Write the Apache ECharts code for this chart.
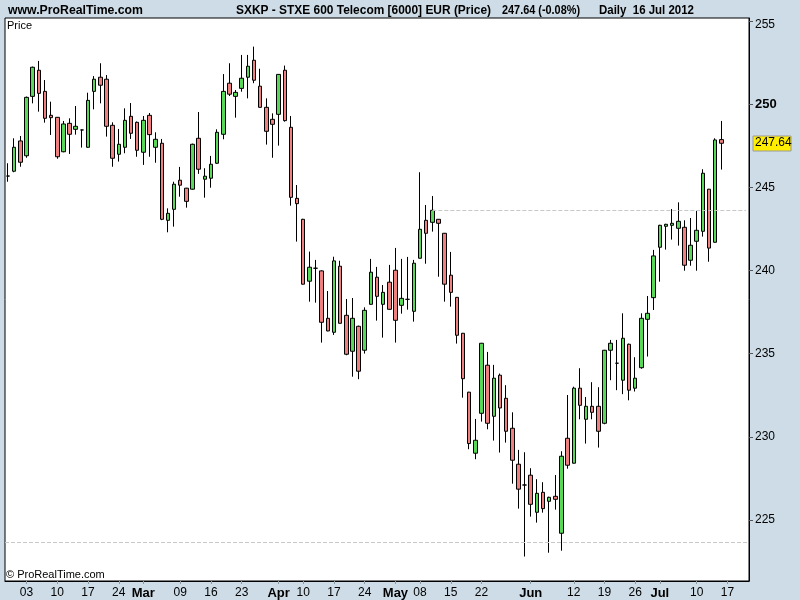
<!DOCTYPE html>
<html>
<head>
<meta charset="utf-8">
<script src="https://cdn.jsdelivr.net/npm/echarts@6/dist/echarts.min.js"></script>
<style>html,body{margin:0;padding:0;background:#cddce6;}#c{width:800px;height:600px;}</style>
</head>
<body>
<div id="c"></div>
<script>
// Trading days (Eurex calendar) plus 4 empty future sessions
const dates = [
'2012-01-31',
'2012-02-01','2012-02-02','2012-02-03','2012-02-06','2012-02-07','2012-02-08','2012-02-09','2012-02-10','2012-02-13','2012-02-14','2012-02-15','2012-02-16','2012-02-17','2012-02-20','2012-02-21','2012-02-22','2012-02-23','2012-02-24','2012-02-27','2012-02-28','2012-02-29',
'2012-03-01','2012-03-02','2012-03-05','2012-03-06','2012-03-07','2012-03-08','2012-03-09','2012-03-12','2012-03-13','2012-03-14','2012-03-15','2012-03-16','2012-03-19','2012-03-20','2012-03-21','2012-03-22','2012-03-23','2012-03-26','2012-03-27','2012-03-28','2012-03-29','2012-03-30',
'2012-04-02','2012-04-03','2012-04-04','2012-04-05','2012-04-10','2012-04-11','2012-04-12','2012-04-13','2012-04-16','2012-04-17','2012-04-18','2012-04-19','2012-04-20','2012-04-23','2012-04-24','2012-04-25','2012-04-26','2012-04-27','2012-04-30',
'2012-05-02','2012-05-03','2012-05-04','2012-05-07','2012-05-08','2012-05-09','2012-05-10','2012-05-11','2012-05-14','2012-05-15','2012-05-16','2012-05-17','2012-05-18','2012-05-21','2012-05-22','2012-05-23','2012-05-24','2012-05-25','2012-05-28','2012-05-29','2012-05-30','2012-05-31',
'2012-06-01','2012-06-04','2012-06-05','2012-06-06','2012-06-07','2012-06-08','2012-06-11','2012-06-12','2012-06-13','2012-06-14','2012-06-15','2012-06-18','2012-06-19','2012-06-20','2012-06-21','2012-06-22','2012-06-25','2012-06-26','2012-06-27','2012-06-28','2012-06-29',
'2012-07-02','2012-07-03','2012-07-04','2012-07-05','2012-07-06','2012-07-09','2012-07-10','2012-07-11','2012-07-12','2012-07-13','2012-07-16',
'2012-07-17','2012-07-18','2012-07-19','2012-07-20'
];

const opens = [
245.67,245.96,247.78,246.89,250.46,252.03,250.76,249.32,249.20,247.13,
248.84,248.48,248.44,247.40,250.76,251.61,251.49,248.72,246.98,247.40,
249.26,248.90,247.10,249.32,247.40,247.64,243.01,243.67,245.42,244.94,
244.88,247.94,245.48,245.54,246.44,248.18,251.25,250.46,250.94,251.61,
252.63,251.07,249.80,249.08,249.38,252.03,248.60,244.33,243.07,239.35,
240.13,239.97,237.12,236.28,240.25,237.30,235.14,236.64,235.20,237.96,
239.59,237.96,239.29,240.01,237.90,238.26,237.54,240.73,243.01,242.89,
243.07,242.23,239.71,238.38,236.22,232.68,229.01,231.41,234.30,231.23,
233.70,232.31,230.51,228.35,227.10,227.69,225.46,226.66,226.12,226.42,
224.20,229.91,228.41,232.92,231.05,231.83,231.83,230.81,235.20,234.42,
233.40,235.56,232.92,234.15,237.06,238.36,241.39,242.65,242.71,242.53,
242.59,240.61,241.75,242.35,244.88,241.69,247.86
];
const closes = [
245.67,247.40,246.50,250.40,252.21,250.64,249.14,249.18,246.83,248.80,
248.18,248.66,248.44,250.22,251.49,251.13,248.66,246.74,247.58,249.02,
248.24,247.22,249.02,248.16,247.88,243.07,243.43,245.18,245.12,244.15,
247.58,246.08,245.66,246.38,248.30,250.76,250.59,250.70,251.55,252.27,
251.43,249.80,248.36,248.78,251.78,249.00,244.39,244.01,239.17,240.19,
240.13,236.88,236.36,240.57,236.82,234.96,237.12,233.94,237.60,239.89,
238.44,238.68,237.66,237.00,238.32,238.26,240.43,242.47,242.23,243.61,
242.83,239.17,238.68,236.10,233.49,229.59,229.79,235.62,230.81,233.52,
231.73,230.33,228.59,226.85,227.10,225.94,226.60,225.68,226.36,226.24,
228.83,228.29,232.92,231.89,231.83,231.47,230.33,235.20,235.62,234.42,
235.92,232.80,233.52,237.12,237.42,240.87,242.71,242.77,242.83,242.95,
240.31,241.51,242.41,245.84,241.34,247.84,247.64
];
const lows = [
245.33,245.90,246.23,246.77,250.04,249.54,248.88,248.14,246.71,247.10,
247.00,248.16,247.38,247.38,249.68,250.04,248.04,246.23,246.54,247.04,
247.90,246.83,246.34,246.83,246.47,243.02,242.29,242.63,244.43,243.77,
244.85,245.80,244.37,244.97,246.40,247.88,250.48,249.18,250.74,250.34,
251.25,249.78,247.56,246.77,247.50,248.94,243.89,241.73,239.15,238.12,
238.06,235.66,236.34,236.12,236.80,234.90,233.61,233.46,235.00,237.94,
236.98,235.96,237.64,235.66,237.40,237.64,236.92,240.71,240.40,242.33,
239.62,238.12,237.82,235.60,232.35,229.25,228.65,230.91,230.45,229.77,
229.05,229.65,227.18,225.68,222.80,225.20,224.84,225.44,223.03,225.62,
223.15,228.08,228.39,231.05,229.59,231.05,229.35,230.75,233.40,232.80,
232.56,232.19,232.72,234.09,234.82,237.62,239.32,241.25,241.85,241.49,
239.98,240.28,239.98,242.03,240.52,241.67,246.06
];
const highs = [
246.44,247.94,248.08,250.45,252.25,252.59,251.44,250.14,249.22,248.98,
249.14,249.88,248.46,250.68,251.68,252.45,251.74,248.90,248.50,249.74,
250.06,248.95,249.28,249.46,248.30,247.90,243.73,245.33,246.22,244.96,
247.62,249.52,246.14,246.88,248.48,251.80,252.45,250.84,252.95,252.95,
253.45,252.12,250.34,249.44,251.80,252.31,249.28,245.13,243.10,241.13,
240.63,240.00,238.76,240.82,240.58,238.28,238.34,236.68,237.78,240.69,
240.21,239.12,240.33,241.35,240.69,240.81,240.63,245.90,243.93,244.47,
243.09,242.25,241.11,238.40,236.24,232.70,231.07,235.64,235.10,234.32,
233.80,233.10,231.47,229.21,229.07,228.11,227.45,227.27,226.40,227.70,
229.13,232.51,233.01,234.12,232.39,233.28,232.98,235.22,235.82,235.82,
237.42,235.60,234.78,237.42,238.46,241.23,242.74,242.80,243.69,244.09,
243.01,243.15,243.57,246.08,244.90,247.94,248.98
];

const tickDates = ['2012-02-03','2012-02-10','2012-02-17','2012-02-24','2012-03-01','2012-03-09','2012-03-16','2012-03-23','2012-04-02','2012-04-10','2012-04-17','2012-04-24','2012-05-02','2012-05-08','2012-05-15','2012-05-22','2012-06-01','2012-06-12','2012-06-19','2012-06-26','2012-07-02','2012-07-10','2012-07-17'];
const tickTexts = ['03','10','17','24','Mar','09','16','23','Apr','10','17','24','May','08','15','22','Jun','12','19','26','Jul','10','17'];
const monthTicks = ['Mar','Apr','May','Jun','Jul'];
const priceTicks = [225,230,235,240,245,250,255];

const lastPrice = 247.64;
const resistanceLevel = 243.61;
const supportLevel = 223.66;
const resistanceStart = '2012-05-10';

const candles = opens.map((o,i)=>[o, closes[i], lows[i], highs[i]]);

const chart = echarts.init(document.getElementById('c'), null, {renderer:'canvas'});
const FONT = 'Liberation Sans, Arial, sans-serif';
const isTick = (idx, val) => tickDates.indexOf(val) >= 0;

chart.setOption({
  backgroundColor: '#cddce6',
  animation: false,
  textStyle: {fontFamily: FONT},
  grid: {left: 5, right: 51, top: 18, bottom: 19, show: true, backgroundColor: '#ffffff', borderColor: '#000000', borderWidth: 1},
  xAxis: {
    type: 'category', data: dates, boundaryGap: true,
    axisLine: {show: true, lineStyle: {color: '#000'}},
    axisTick: {show: true, interval: isTick, alignWithLabel: true, length: 3, lineStyle: {color: '#8a9aa4'}},
    axisLabel: {
      interval: isTick, margin: 6, color: '#000', fontSize: 12, fontFamily: FONT,
      formatter: v => { const t = tickTexts[tickDates.indexOf(v)]; return monthTicks.indexOf(t) >= 0 ? '{m|' + t + '}' : t; },
      rich: {m: {fontWeight: 'bold', fontSize: 13, color: '#000', fontFamily: FONT}}
    },
    splitLine: {show: false}
  },
  yAxis: {
    type: 'value', position: 'right', min: 221.33, max: 255.17, scale: true,
    axisLine: {show: true, lineStyle: {color: '#000'}},
    axisTick: {show: true, length: 4, customValues: priceTicks, lineStyle: {color: '#555'}},
    axisLabel: {
      customValues: priceTicks, margin: 6, color: '#000', fontSize: 12, fontFamily: FONT,
      formatter: v => v === 250 ? '{b|250}' : (v === 255 ? '{t|255}' : String(v)),
      rich: {
        b: {fontWeight: 'bold', fontSize: 13, color: '#000', fontFamily: FONT},
        t: {fontSize: 12, color: '#000', fontFamily: FONT, padding: [8, 0, 0, 0]}
      }
    },
    splitLine: {show: false}
  },
  series: [{
    type: 'candlestick', data: candles, barWidth: 4,
    itemStyle: {color: '#57d957', color0: '#f08080', borderColor: '#000', borderColor0: '#000', borderColorDoji: '#000', borderWidth: 1},
    markLine: {
      silent: true, symbol: ['none','none'], animation: false,
      label: {show: false},
      lineStyle: {type: 'dashed', color: '#c8c8c8', width: 1},
      data: [
        {yAxis: supportLevel},
        [{coord: [resistanceStart, resistanceLevel]}, {coord: [dates[dates.length-1], resistanceLevel]}]
      ]
    }
  }]
});

// fit header texts horizontally into their spans
const mctx = document.createElement('canvas').getContext('2d');
const HFONT = 'bold 12px "Liberation Sans", Arial, sans-serif';
function headerText(str, x0, x1) {
  mctx.font = HFONT;
  const w = mctx.measureText(str).width;
  return {type: 'text', x: x0, y: 11, scaleX: (x1 - x0) / w, originX: 0, originY: 0,
          style: {text: str, x: 0, y: 0, font: HFONT, fill: '#000', verticalAlign: 'middle'}};
}

const yLast = chart.convertToPixel({yAxisIndex: 0}, lastPrice);
chart.setOption({
  graphic: [
    headerText('www.ProRealTime.com', 8, 143),
    headerText('SXKP - STXE 600 Telecom [6000] EUR (Price)', 236, 491),
    headerText('247.64 (-0.08%)', 502, 580),
    headerText('Daily  16 Jul 2012', 599, 694),
    {type: 'text', left: 7, top: 20, style: {text: 'Price', font: '11px Liberation Sans, Arial, sans-serif', fill: '#000'}},
    {type: 'text', left: 6, top: 569, style: {text: '\u00a9 ProRealTime.com', font: '11px Liberation Sans, Arial, sans-serif', fill: '#000'}},
    {type: 'rect', shape: {x: 753, y: Math.round(yLast) - 7, width: 38, height: 15}, style: {fill: '#ffee00', stroke: '#9a9a9a', lineWidth: 1}, z: 100},
    {type: 'text', x: 755, y: Math.round(yLast), style: {text: '247.64', font: '12px Liberation Sans, Arial, sans-serif', fill: '#000', verticalAlign: 'middle'}, z: 101}
  ]
});
</script>
</body>
</html>
